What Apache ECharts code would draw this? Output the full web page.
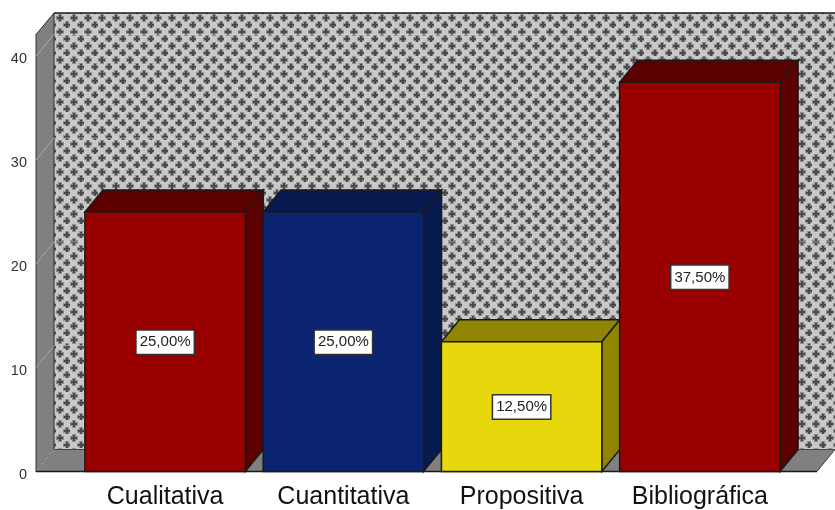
<!DOCTYPE html>
<html>
<head>
<meta charset="utf-8">
<title>Tipo de investigación</title>
<script src="https://cdn.jsdelivr.net/npm/echarts@6/dist/echarts.min.js"></script>
<style>
  html, body { margin: 0; padding: 0; background: #fff; }
  #chart { width: 835px; height: 510px; }
</style>
</head>
<body>
<div id="chart"></div>
<script>
const categories = ['Cualitativa', 'Cuantitativa', 'Propositiva', 'Bibliográfica']
const values = [25, 25, 12.5, 37.5]
const pctLabels = ['25,00%', '25,00%', '12,50%', '37,50%']
const gridTicks = [0, 10, 20, 30, 40]

// front, top and side colour of each bar
const frontColors = ['#990000', '#0a2472', '#e6d80c', '#990000']
const shadeColors = ['#5c0000', '#061a50', '#8f8500', '#5c0000']

// depth of the fake 3D box
const DX = 18
const DY = 22

// dotted cross texture of the back wall
const makeWallPattern = () => {
  const c = document.createElement('canvas')
  c.width = 14
  c.height = 14
  const ctx = c.getContext('2d')
  ctx.fillStyle = '#c8c8c8'
  ctx.fillRect(0, 0, 14, 14)
  const cross = (x, y) => {
    ctx.fillStyle = '#8e8e8e'
    ctx.fillRect(x - 2, y - 4, 4, 8)
    ctx.fillRect(x - 4, y - 2, 8, 4)
    ctx.fillStyle = '#4a4a4a'
    ctx.fillRect(x - 1, y - 3, 2, 6)
    ctx.fillRect(x - 3, y - 1, 6, 2)
  }
  cross(11, 11)
  cross(4, 4)
  return c
}
const wallPattern = { image: makeWallPattern(), repeat: 'repeat' }

const lineStyle = { stroke: '#1a1a1a', lineWidth: 1.5 }

// walls and floor, built from the grid rect
const renderWalls = (params, api) => {
  const cs = params.coordSys
  const left = 36
  const right = cs.x + cs.width + 28
  const top = cs.y
  const bottom = cs.y + cs.height
  const wallTop = top - DY + 0.5
  const children = [
    { type: 'rect', shape: { x: left + DX, y: wallTop, width: right - left, height: bottom - DY - wallTop }, style: { fill: wallPattern } },
    { type: 'polygon', shape: { points: [[left, top], [left + DX, wallTop], [left + DX, bottom - DY], [left, bottom]] }, style: { fill: '#808080', stroke: '#333', lineWidth: 1 } },
    { type: 'polygon', shape: { points: [[left, bottom], [left + DX, bottom - DY], [right + DX, bottom - DY], [right, bottom]] }, style: { fill: '#808080', stroke: '#444', lineWidth: 1 } }
  ]
  gridTicks.forEach(t => {
    const y = api.coord([0, t])[1]
    if (t > 0) {
      children.push({ type: 'line', shape: { x1: left + DX, y1: y - DY, x2: right + DX, y2: y - DY }, style: { stroke: 'rgba(215,215,215,0.55)', lineWidth: 1 } })
    }
    children.push({ type: 'line', shape: { x1: left, y1: y, x2: left + DX, y2: y - DY }, style: { stroke: '#a8a8a8', lineWidth: 1 } })
  })
  children.push({ type: 'line', shape: { x1: left + DX, y1: wallTop, x2: right + DX, y2: wallTop }, style: lineStyle })
  children.push({ type: 'line', shape: { x1: left, y1: bottom, x2: right, y2: bottom }, style: lineStyle })
  return { type: 'group', children }
}

// one 3D box per category
const renderBar = (params, api) => {
  const i = params.dataIndex
  const p = api.coord([api.value(0), api.value(1)])
  const base = api.coord([api.value(0), 0])
  const w = api.size([1, 0])[0] * 0.9
  const x0 = p[0] - w / 2
  const x1 = p[0] + w / 2
  const y0 = p[1]
  const y1 = base[1]
  return {
    type: 'group',
    children: [
      { type: 'polygon', shape: { points: [[x0, y0], [x0 + DX, y0 - DY], [x1 + DX, y0 - DY], [x1, y0]] }, style: { fill: shadeColors[i], ...lineStyle } },
      { type: 'polygon', shape: { points: [[x1, y0], [x1 + DX, y0 - DY], [x1 + DX, y1 - DY], [x1, y1]] }, style: { fill: shadeColors[i], ...lineStyle } },
      { type: 'rect', shape: { x: x0, y: y0, width: w, height: y1 - y0 }, style: { fill: frontColors[i], ...lineStyle } },
      {
        type: 'text',
        x: p[0],
        y: (y0 + y1) / 2 + 0.5,
        style: {
          text: pctLabels[i],
          align: 'center',
          verticalAlign: 'middle',
          font: '15px "Liberation Sans", Arial, sans-serif',
          fill: '#222',
          backgroundColor: '#fff',
          borderColor: '#333',
          borderWidth: 1.5,
          padding: [4, 3, 4, 3]
        }
      }
    ]
  }
}

const chart = echarts.init(document.getElementById('chart'), null, { renderer: 'canvas' })
chart.setOption({
  animation: false,
  backgroundColor: '#fff',
  grid: { left: 76, width: 713, top: 34.5, bottom: 38.5 },
  xAxis: {
    type: 'category',
    data: categories,
    axisLine: { show: false },
    axisTick: { show: false },
    axisLabel: { color: '#111', fontSize: 25, fontFamily: '"Liberation Sans", Arial, sans-serif', margin: 13, interval: 0 }
  },
  yAxis: {
    type: 'value',
    min: 0,
    max: 42.1,
    interval: 10,
    splitLine: { show: false },
    axisLine: { show: false },
    axisTick: { show: false },
    axisLabel: { color: '#333', fontSize: 14.5, fontFamily: '"Liberation Sans", Arial, sans-serif', margin: 49, showMaxLabel: false, verticalAlign: 'top', lineHeight: 6 }
  },
  series: [
    { type: 'custom', renderItem: renderWalls, data: [[0, 0]], clip: false, silent: true, z: 1 },
    { type: 'custom', renderItem: renderBar, data: categories.map((c, i) => [i, values[i]]), clip: false, z: 2 }
  ]
})
</script>
</body>
</html>
